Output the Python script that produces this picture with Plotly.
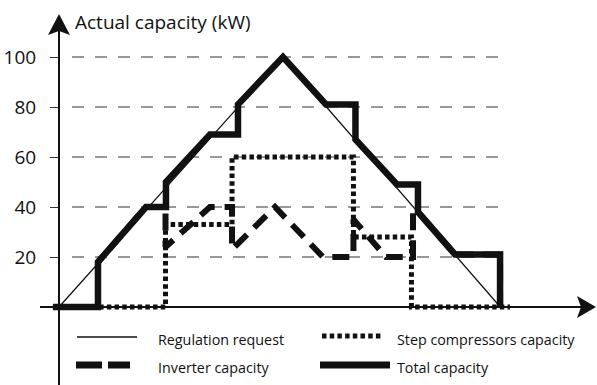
import plotly.graph_objects as go

# ---------------- data ----------------
time_reg = [0.0, 20.0, 39.4]
regulation_request = [0, 100, 0]

time_total = [-0.54, 3.48, 3.48, 7.77, 9.55, 9.55, 13.48, 15.98, 15.98, 20.0,
              23.84, 26.47, 26.47, 30.18, 32.05, 32.05, 35.36, 39.38, 39.38]
total_capacity = [0, 0, 18, 40, 40, 50, 69, 69, 81, 100,
                  81, 81, 67, 49, 49, 38, 21, 21, 0]

time_step = [-0.54, 9.51, 9.51, 15.45, 15.45, 26.29, 26.29, 31.47, 31.47, 40.27]
step_capacity = [0, 0, 33, 33, 60, 60, 28, 28, 0, 0]

time_inv = [-0.54, 3.48, 3.48, 7.77, 9.51, 9.51, 13.48, 15.45, 15.45, 19.29,
            23.57, 26.29, 26.29, 29.2, 31.61, 31.61, 32.05, 35.36, 39.38, 39.38]
inverter_capacity = [0, 0, 18, 40, 40, 24, 40, 40, 23, 40,
                     20, 20, 35, 20, 20, 38, 38, 21, 21, 0]

y_ticks = [20, 40, 60, 80, 100]
y_tick_labels = ["20", "40", "60", "80", "100"]
axis_title = "Actual capacity (kW)"
legend_labels = ["Regulation request", "Step compressors capacity",
                 "Inverter capacity", "Total capacity"]

# ---------------- layout helpers (pixel -> axis units) ----------------
W, H = 597, 385
ML = 40
X0_PX, PX_PER_T = 59, 11.2
Y0_PX, PX_PER_KW = 307, 2.5


def tx(px):
    return (px - X0_PX) / PX_PER_T


def vy(py):
    return (Y0_PX - py) / PX_PER_KW


INK = "#111111"
GRID = "#333333"
FONT = "Open Sans"

STYLE_REG = dict(color=INK, width=1.3)
STYLE_STEP = dict(color=INK, width=5, dash="4.5px,3.2px")
STYLE_INV = dict(color=INK, width=6, dash="17px,10px")
STYLE_TOT = dict(color=INK, width=6.5)

fig = go.Figure()
fig.add_trace(go.Scatter(x=time_reg, y=regulation_request, mode="lines",
                         line=STYLE_REG, name=legend_labels[0]))
fig.add_trace(go.Scatter(x=time_step, y=step_capacity, mode="lines",
                         line=STYLE_STEP, name=legend_labels[1]))
fig.add_trace(go.Scatter(x=time_inv, y=inverter_capacity, mode="lines",
                         line=STYLE_INV, name=legend_labels[2]))
fig.add_trace(go.Scatter(x=time_total, y=total_capacity, mode="lines",
                         line=STYLE_TOT, name=legend_labels[3]))

shapes = []
# dashed horizontal grid lines
for v in y_ticks:
    shapes.append(dict(type="line", xref="x", yref="y", x0=tx(72), x1=tx(503),
                       y0=v, y1=v, layer="below",
                       line=dict(color=GRID, width=1.1, dash="12px,11px")))
# axes with arrowheads
shapes.append(dict(type="line", xref="x", yref="y", x0=0, x1=0,
                   y0=vy(385), y1=vy(30), line=dict(color=INK, width=2)))
shapes.append(dict(type="path", xref="x", yref="y",
                   path=f"M {tx(59)},{vy(14)} L {tx(48)},{vy(35)} L {tx(59)},{vy(31)} "
                        f"L {tx(70)},{vy(35)} Z",
                   fillcolor=INK, line=dict(width=0)))
shapes.append(dict(type="line", xref="x", yref="y", x0=tx(38), x1=tx(584),
                   y0=0, y1=0, line=dict(color=INK, width=2)))
shapes.append(dict(type="path", xref="x", yref="y",
                   path=f"M {tx(596)},{vy(307)} L {tx(577)},{vy(296)} L {tx(581)},{vy(307)} "
                        f"L {tx(577)},{vy(318)} Z",
                   fillcolor=INK, line=dict(width=0)))
# legend samples
shapes.append(dict(type="line", xref="x", yref="y", x0=tx(77), x1=tx(137),
                   y0=vy(337), y1=vy(337), line=STYLE_REG))
shapes.append(dict(type="line", xref="x", yref="y", x0=tx(76), x1=tx(130),
                   y0=vy(365), y1=vy(365),
                   line=dict(color=INK, width=7, dash="26px,6px")))
shapes.append(dict(type="line", xref="x", yref="y", x0=tx(322), x1=tx(382),
                   y0=vy(336), y1=vy(336), line=STYLE_STEP))
shapes.append(dict(type="line", xref="x", yref="y", x0=tx(320), x1=tx(390),
                   y0=vy(365), y1=vy(365), line=dict(color=INK, width=7)))

annotations = [
    dict(x=tx(73), y=vy(22), xref="x", yref="y", text=axis_title, showarrow=False,
         xanchor="left", yanchor="middle", font=dict(size=19, color=INK, family=FONT)),
]
legend_pos = [(156, 339), (395, 339), (156, 367), (395, 367)]
for lbl, (px, py) in zip(legend_labels, legend_pos):
    annotations.append(dict(x=tx(px), y=vy(py), xref="x", yref="y", text=lbl,
                            showarrow=False, xanchor="left", yanchor="middle",
                            font=dict(size=14.3, color=INK, family=FONT)))

fig.update_layout(
    width=W, height=H,
    margin=dict(l=ML, r=0, t=0, b=0),
    plot_bgcolor="white", paper_bgcolor="white",
    showlegend=False,
    font=dict(family=FONT, color=INK),
    xaxis=dict(range=[tx(ML), tx(W)], showgrid=False, zeroline=False,
               showline=False, showticklabels=False, ticks=""),
    yaxis=dict(range=[vy(H), vy(0)], anchor="free",
               position=(X0_PX - ML) / (W - ML),
               tickvals=y_ticks, ticktext=y_tick_labels,
               ticks="outside", ticklen=9, tickwidth=1.1, tickcolor=GRID,
               ticklabelstandoff=10,
               tickfont=dict(size=19, color=INK, family=FONT),
               showgrid=False, zeroline=False, showline=False),
    shapes=shapes,
    annotations=annotations,
)

fig.write_html("out.html",
               config={"displayModeBar": False},
               post_script="document.body.style.margin='0';document.body.style.overflow='hidden';")
